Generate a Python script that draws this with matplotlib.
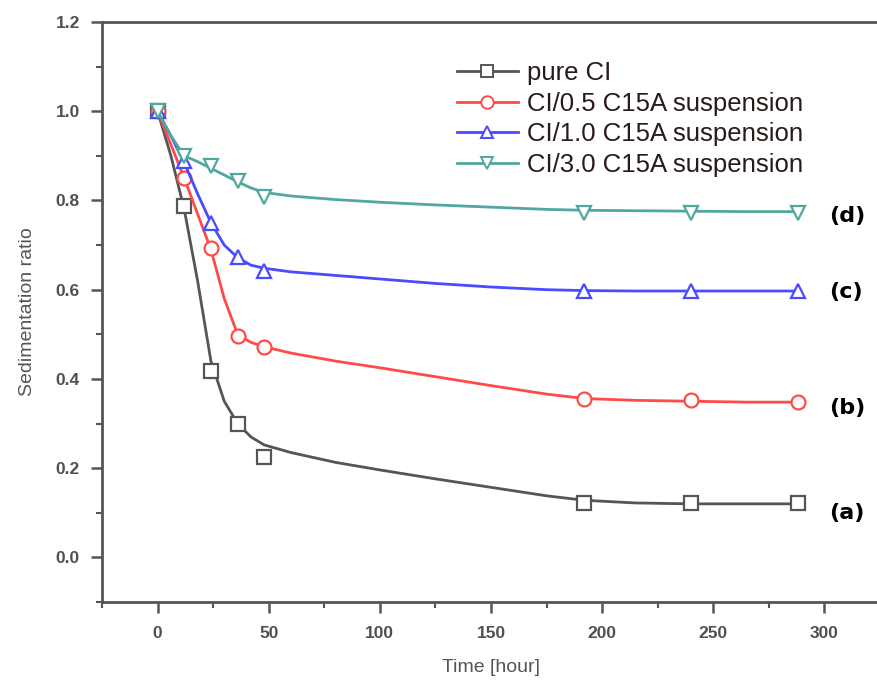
import numpy as np
import matplotlib.pyplot as plt
from matplotlib.ticker import MultipleLocator

plt.rcParams['font.family'] = ['Liberation Sans', 'DejaVu Sans']

# measured points
time_h = [0, 12, 24, 36, 48, 192, 240, 288]
pure_ci = [1.0, 0.788, 0.418, 0.298, 0.226, 0.122, 0.122, 0.122]
ci_05 = [1.0, 0.851, 0.693, 0.497, 0.472, 0.354, 0.352, 0.348]
ci_10 = [1.0, 0.889, 0.749, 0.673, 0.643, 0.598, 0.597, 0.596]
ci_30 = [1.0, 0.900, 0.878, 0.843, 0.808, 0.772, 0.772, 0.772]

# fitted curves
fit_t = [0, 6, 12, 18, 24, 30, 36, 42, 48, 60, 80, 100, 125, 150, 175, 192, 215, 240, 265, 288]
fit_pure = [1.0, 0.90, 0.78, 0.62, 0.44, 0.35, 0.30, 0.27, 0.252, 0.235, 0.213, 0.196, 0.176, 0.157, 0.138, 0.128, 0.122, 0.120, 0.120, 0.120]
fit_05 = [1.0, 0.925, 0.85, 0.77, 0.69, 0.58, 0.50, 0.482, 0.472, 0.458, 0.440, 0.425, 0.405, 0.385, 0.366, 0.356, 0.352, 0.350, 0.348, 0.348]
fit_10 = [1.0, 0.945, 0.885, 0.815, 0.75, 0.70, 0.672, 0.655, 0.648, 0.640, 0.632, 0.624, 0.614, 0.606, 0.600, 0.598, 0.597, 0.597, 0.597, 0.597]
fit_30 = [1.0, 0.945, 0.90, 0.887, 0.872, 0.857, 0.842, 0.828, 0.818, 0.810, 0.802, 0.796, 0.790, 0.785, 0.780, 0.778, 0.777, 0.776, 0.775, 0.775]

labels = ['pure CI', 'CI/0.5 C15A suspension', 'CI/1.0 C15A suspension', 'CI/3.0 C15A suspension']
tags = ['(a)', '(b)', '(c)', '(d)']
tag_y = [0.10, 0.335, 0.595, 0.765]

series = [pure_ci, ci_05, ci_10, ci_30]
fits = [fit_pure, fit_05, fit_10, fit_30]
colors = ['#555555', '#ff4a4a', '#4a4aff', '#4fa89f']
markers = ['s', 'o', '^', 'v']

fig = plt.figure(figsize=(8.77, 6.88), dpi=100)
ax = fig.add_axes([102 / 877, 1 - 602 / 688, 778 / 877, 580 / 688])

handles = []
for y, f, c, m, lab in zip(series, fits, colors, markers, labels):
    ax.plot(fit_t, f, color=c, lw=2)
    ax.plot(time_h, y, ls='none', marker=m, ms=10, mfc='white', mec=c, mew=1.6)
    h, = ax.plot([], [], color=c, lw=2, marker=m, ms=9, mfc='white', mec=c, mew=1.4, label=lab)
    handles.append(h)

for t, ty in zip(tags, tag_y):
    ax.text(302, ty, t, fontsize=16, fontweight='bold', ha='left', va='center',
            family=['DejaVu Sans'])

ax.set_xlim(-25, 325)
ax.set_ylim(-0.1, 1.2)
ax.xaxis.set_major_locator(MultipleLocator(50))
ax.xaxis.set_minor_locator(MultipleLocator(25))
ax.yaxis.set_minor_locator(MultipleLocator(0.1))
ax.set_yticks(np.arange(0, 1.21, 0.2))
ax.set_yticklabels(['0.0', '0.2', '0.4', '0.6', '0.8', '1.0', '1.2'])

for s in ax.spines.values():
    s.set_color('#555555')
    s.set_linewidth(2)
ax.tick_params(which='major', direction='out', length=8, width=1.8, color='#555555',
               labelsize=12.5, labelcolor='#505050')
ax.tick_params(axis='x', pad=9)
ax.tick_params(axis='y', pad=8)
ax.tick_params(which='minor', direction='out', length=4, width=1.5, color='#555555')
for lbl in ax.get_xticklabels() + ax.get_yticklabels():
    lbl.set_fontweight('bold')

ax.set_xlabel('Time [hour]', fontsize=14, color='#555555', labelpad=13)
ax.set_ylabel('Sedimentation ratio', fontsize=14, color='#555555', labelpad=14)

ax.legend(handles=handles, loc='upper left', bbox_to_anchor=(0.426, 0.972), frameon=False,
          fontsize=18.5, handlelength=2.4, handletextpad=0.35, labelspacing=0.25,
          labelcolor='#2a1a1a')

fig.savefig('out.png', dpi=100)
